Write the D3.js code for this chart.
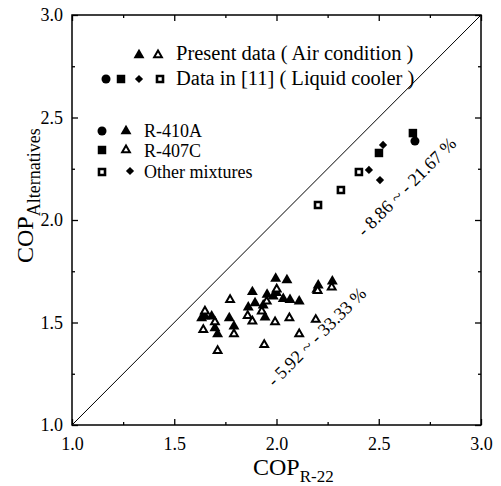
<!DOCTYPE html>
<html lang="en">
<head>
<meta charset="UTF-8">
<title>COP comparison</title>
<style>
  body { margin: 0; background: #fff; }
  svg text { font-family: "Liberation Serif", "DejaVu Serif", serif; fill: #000; }
</style>
</head>
<body>
<script src="https://cdnjs.cloudflare.com/ajax/libs/d3/7.8.5/d3.min.js"></script>
<script>
'use strict';
// ticks
const majorTicks = [1.0, 1.5, 2.0, 2.5, 3.0];
const minorTicks = [1.25, 1.75, 2.25, 2.75];

// present data (air condition) : R-410A filled triangles
const airR410A_x = [1.996, 2.051, 2.204, 2.273, 2.197, 1.882, 1.954, 1.984, 2.000, 2.033, 2.066, 2.111,
  1.895, 1.862, 1.935, 1.944, 1.650, 1.683, 1.634, 1.699, 1.769, 1.792, 1.712];
const airR410A_y = [1.714, 1.707, 1.681, 1.701, 1.660, 1.649, 1.636, 1.628, 1.645, 1.616, 1.611, 1.603,
  1.595, 1.574, 1.584, 1.525, 1.530, 1.530, 1.522, 1.473, 1.522, 1.481, 1.444];
// present data : R-407C open triangles
const airR407C_x = [2.001, 1.773, 1.952, 2.270, 2.201, 1.928, 1.859, 1.882, 1.993, 2.063, 2.192,
  1.650, 1.699, 1.642, 1.792, 2.111, 1.940, 1.712];
const airR407C_y = [1.662, 1.611, 1.603, 1.672, 1.655, 1.555, 1.533, 1.506, 1.502, 1.522, 1.514,
  1.555, 1.502, 1.465, 1.444, 1.444, 1.392, 1.362];

// data in [11] (liquid cooler)
const liqR410A_x = [2.677];
const liqR410A_y = [2.385];
const liqR407C_x = [2.501, 2.667];
const liqR407C_y = [2.327, 2.424];
const liqOtherSq_x = [2.203, 2.315, 2.403];
const liqOtherSq_y = [2.073, 2.146, 2.234];
const liqOtherDia_x = [2.452, 2.506, 2.521];
const liqOtherDia_y = [2.244, 2.195, 2.366];

const W = 501, H = 486;
const mLeft = 72, mRight = 481, mTop = 15, mBottom = 425;
const serif = '"Liberation Serif", "Times New Roman", serif';

const svg = d3.select("body").append("svg")
  .attr("width", W)
  .attr("height", H);

const x = d3.scaleLinear().domain([1, 3]).range([mLeft, mRight]);
const y = d3.scaleLinear().domain([1, 3]).range([mBottom, mTop]);

// axes, ticks pointing inward
function axisStyle(g) {
  g.attr("font-family", serif).attr("font-size", 18);
  g.select(".domain").remove();
  g.selectAll("line").attr("stroke", "#000").attr("stroke-width", 1.3);
}
svg.append("g").attr("transform", `translate(0,${mBottom})`)
  .call(d3.axisBottom(x).tickValues(majorTicks).tickFormat(d3.format(".1f")).tickSize(-6).tickPadding(12))
  .call(axisStyle);
svg.append("g").attr("transform", `translate(0,${mBottom})`)
  .call(d3.axisBottom(x).tickValues(minorTicks).tickFormat("").tickSize(-3))
  .call(axisStyle);
svg.append("g").attr("transform", `translate(0,${mTop})`)
  .call(d3.axisTop(x).tickValues(majorTicks).tickFormat("").tickSize(-6))
  .call(axisStyle);
svg.append("g").attr("transform", `translate(0,${mTop})`)
  .call(d3.axisTop(x).tickValues(minorTicks).tickFormat("").tickSize(-3))
  .call(axisStyle);
svg.append("g").attr("transform", `translate(${mLeft},0)`)
  .call(d3.axisLeft(y).tickValues(majorTicks).tickFormat(d3.format(".1f")).tickSize(-6).tickPadding(9))
  .call(axisStyle);
svg.append("g").attr("transform", `translate(${mLeft},0)`)
  .call(d3.axisLeft(y).tickValues(minorTicks).tickFormat("").tickSize(-3))
  .call(axisStyle);
svg.append("g").attr("transform", `translate(${mRight},0)`)
  .call(d3.axisRight(y).tickValues(majorTicks).tickFormat("").tickSize(-6))
  .call(axisStyle);
svg.append("g").attr("transform", `translate(${mRight},0)`)
  .call(d3.axisRight(y).tickValues(minorTicks).tickFormat("").tickSize(-3))
  .call(axisStyle);

// frame
svg.append("rect")
  .attr("x", mLeft).attr("y", mTop)
  .attr("width", mRight - mLeft).attr("height", mBottom - mTop)
  .attr("fill", "none").attr("stroke", "#000").attr("stroke-width", 1.5);

// diagonal y = x
svg.append("line")
  .attr("x1", x(1)).attr("y1", y(1))
  .attr("x2", x(3)).attr("y2", y(3))
  .attr("stroke", "#000").attr("stroke-width", 1);

// marker styles
const markers = {
  triFill:  {type: d3.symbolTriangle, size: 52, fill: "#000", stroke: "none", sw: 0, rot: 0},
  triOpen:  {type: d3.symbolTriangle, size: 26, fill: "#fff", stroke: "#000", sw: 2, rot: 0},
  circle:   {type: d3.symbolCircle, size: 64, fill: "#000", stroke: "none", sw: 0, rot: 0},
  square:   {type: d3.symbolSquare, size: 72, fill: "#000", stroke: "none", sw: 0, rot: 0},
  sqOpen:   {type: d3.symbolSquare, size: 36, fill: "#fff", stroke: "#000", sw: 2.6, rot: 0},
  diamond:  {type: d3.symbolSquare, size: 34, fill: "#000", stroke: "none", sw: 0, rot: 45}
};

function drawMark(g, m, px, py) {
  g.append("path")
    .attr("d", d3.symbol().type(m.type).size(m.size)())
    .attr("transform", `translate(${px},${py}) rotate(${m.rot})`)
    .attr("fill", m.fill)
    .attr("stroke", m.stroke)
    .attr("stroke-width", m.sw);
}

function drawSeries(xs, ys, m) {
  const g = svg.append("g");
  g.selectAll("path")
    .data(d3.range(xs.length))
    .enter()
    .append("path")
      .attr("d", d3.symbol().type(m.type).size(m.size)())
      .attr("transform", i => `translate(${x(xs[i])},${y(ys[i])}) rotate(${m.rot})`)
      .attr("fill", m.fill)
      .attr("stroke", m.stroke)
      .attr("stroke-width", m.sw);
}

drawSeries(airR410A_x, airR410A_y, markers.triFill);
drawSeries(airR407C_x, airR407C_y, markers.triOpen);
drawSeries(liqOtherSq_x, liqOtherSq_y, markers.sqOpen);
drawSeries(liqOtherDia_x, liqOtherDia_y, markers.diamond);
drawSeries(liqR407C_x, liqR407C_y, markers.square);
drawSeries(liqR410A_x, liqR410A_y, markers.circle);

// legend
const leg = svg.append("g");
drawMark(leg, markers.triFill, 139, 55);
drawMark(leg, markers.triOpen, 158, 55);
leg.append("text").attr("x", 176).attr("y", 60).style("font-size", "20.5px").text("Present data ( Air condition )");
drawMark(leg, markers.circle, 106, 79);
drawMark(leg, markers.square, 121, 79);
drawMark(leg, markers.diamond, 139, 79);
drawMark(leg, markers.sqOpen, 160, 79);
leg.append("text").attr("x", 176).attr("y", 85).style("font-size", "20.5px").text("Data in [11] ( Liquid cooler )");

drawMark(leg, markers.circle, 102, 131);
drawMark(leg, markers.triFill, 126, 131);
leg.append("text").attr("x", 144).attr("y", 137).style("font-size", "18px").text("R-410A");
drawMark(leg, markers.square, 102, 150);
drawMark(leg, markers.triOpen, 126, 150);
leg.append("text").attr("x", 144).attr("y", 157).style("font-size", "18px").text("R-407C");
drawMark(leg, markers.sqOpen, 102, 172);
drawMark(leg, markers.diamond, 130, 171);
leg.append("text").attr("x", 144).attr("y", 178).style("font-size", "18px").text("Other mixtures");

// annotations
svg.append("text")
  .attr("transform", "translate(411,191) rotate(-45)")
  .attr("text-anchor", "middle")
  .style("font-size", "18px")
  .text("- 8.86 ~ - 21.67 %");
svg.append("text")
  .attr("transform", "translate(321,341) rotate(-45)")
  .attr("text-anchor", "middle")
  .style("font-size", "18px")
  .text("- 5.92 ~ - 33.33 %");

// axis titles
const xt = svg.append("text").attr("x", 253).attr("y", 475).style("font-size", "24px");
xt.append("tspan").text("COP");
xt.append("tspan").attr("dy", 7).style("font-size", "17px").text("R-22");

const yt = svg.append("text").attr("transform", "translate(33,263) rotate(-90)").style("font-size", "24px");
yt.append("tspan").text("COP");
yt.append("tspan").attr("dy", 7).style("font-size", "18px").text("Alternatives");
</script>
</body>
</html>
